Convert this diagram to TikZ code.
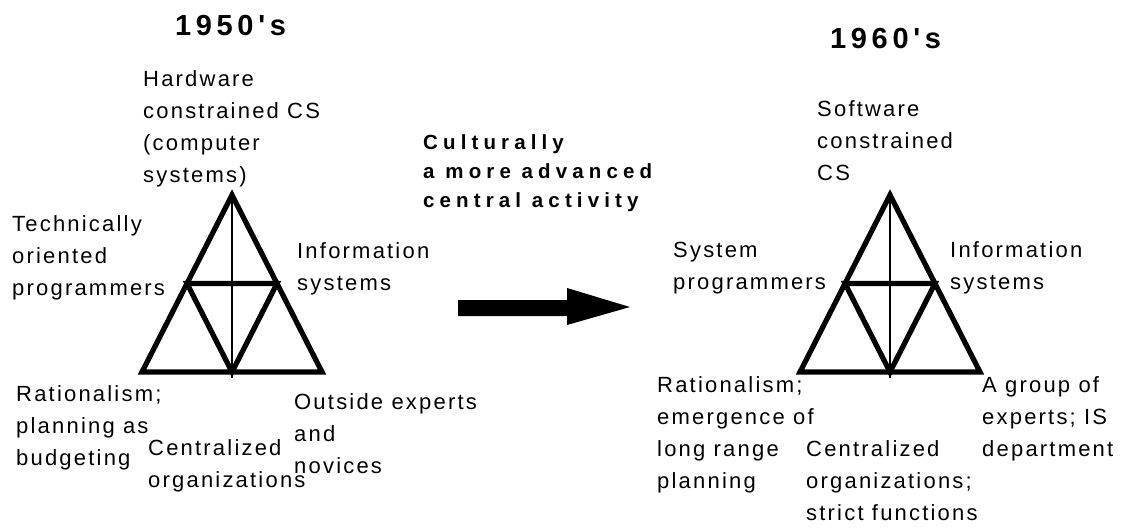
\documentclass[tikz,border=0pt]{standalone}
\usepackage{fontspec}
\setmainfont{Liberation Sans}
\newfontfamily\lblfont[LetterSpace=10]{Liberation Sans}
\newfontfamily\headfont[LetterSpace=16]{Liberation Sans}
\newfontfamily\notefont[LetterSpace=25]{Liberation Sans}
\usetikzlibrary{calc}
% one triangle: apex x-position, name prefix
\newcommand\stagetriangle[2]{%
  \coordinate (#2-top) at (#1,195);
  \coordinate (#2-bl)  at ({#1-90},372);
  \coordinate (#2-br)  at ({#1+90},372);
  \coordinate (#2-ml)  at ($(#2-top)!0.5!(#2-bl)$);
  \coordinate (#2-mr)  at ($(#2-top)!0.5!(#2-br)$);
  \coordinate (#2-mb)  at (#1,372);
  \coordinate (#2-foot) at (#1,378);
  \draw[edge] (#2-top) -- (#2-bl) -- (#2-br) -- cycle;
  \draw[edge] (#2-ml) -- (#2-mb) -- (#2-mr) -- cycle;
  \draw[axis] (#2-top) -- (#2-foot);
}
\begin{document}
% label nodes are placed by the baseline of their last line
\begin{tikzpicture}[x=1pt,y=-1pt,
  lbl/.style={anchor=base west, align=left, inner sep=0pt,
    font=\lblfont\fontsize{22}{31.7}\selectfont},
  yearlbl/.style={anchor=base west, inner sep=0pt,
    font=\headfont\bfseries\fontsize{29}{34}\selectfont},
  note/.style={anchor=base west, align=left, inner sep=0pt,
    font=\notefont\bfseries\fontsize{20.5}{29}\selectfont},
  edge/.style={line width=5.2pt, line join=miter},
  axis/.style={line width=1.3pt}]
\path[use as bounding box, fill=white] (0,0) rectangle (1125,531);

% 1950's
\node[yearlbl] (y50) at (175,35) {1950's};
\stagetriangle{232}{a}
\node[lbl] (a-cs)   at (143,182)  {Hardware\\constrained CS\\(computer\\systems)};
\node[lbl] (a-prog) at (12,295)   {Technically\\oriented\\programmers};
\node[lbl] (a-is)   at (297,290)  {Information\\systems};
\node[lbl] (a-rat)  at (16,465)   {Rationalism;\\planning as\\budgeting};
\node[lbl] (a-org)  at (148,487)  {Centralized\\organizations};
\node[lbl] (a-exp)  at (294,473)  {Outside experts\\and\\novices};

% transition
\node[note] (shift) at (423,207) {Culturally\\a more advanced\\central activity};
\fill (458,300) -- (567,300) -- (567,288) -- (630,307) -- (567,325) -- (567,316) -- (458,316) -- cycle;

% 1960's
\node[yearlbl] (y60) at (830,48) {1960's};
\stagetriangle{890}{b}
\node[lbl] (b-cs)   at (817,180)  {Software\\constrained\\CS};
\node[lbl] (b-prog) at (673,289)  {System\\programmers};
\node[lbl] (b-is)   at (950,289)  {Information\\systems};
\node[lbl] (b-rat)  at (657,488)  {Rationalism;\\emergence of\\long range\\planning};
\node[lbl] (b-org)  at (806,520)  {Centralized\\organizations;\\strict functions};
\node[lbl] (b-exp)  at (982,456)  {A group of\\experts; IS\\department};
\end{tikzpicture}
\end{document}
